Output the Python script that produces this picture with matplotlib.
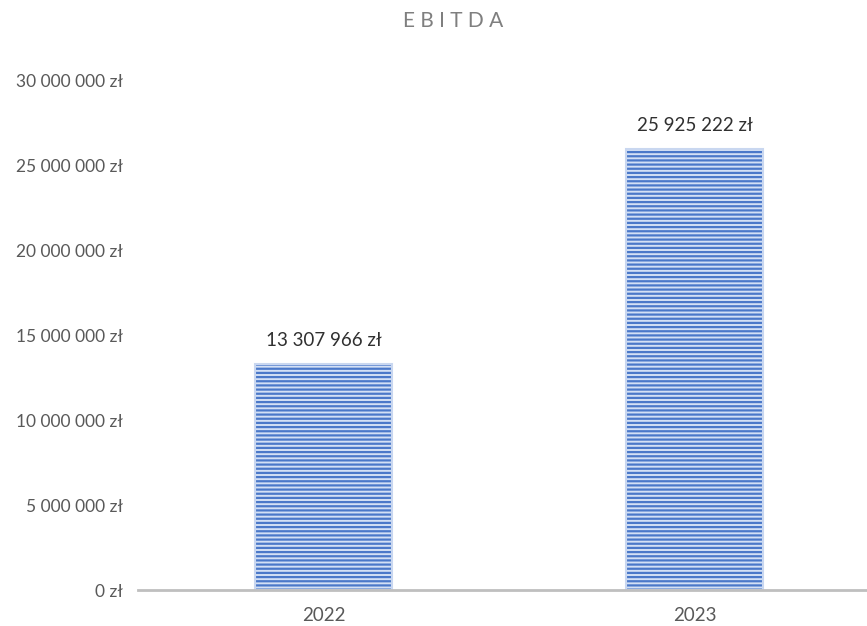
import matplotlib
matplotlib.use('Agg')
import matplotlib.pyplot as plt

years = ['2022', '2023']
ebitda = [13307966, 25925222]

plt.rcParams['font.family'] = ['Lato', 'DejaVu Sans']
plt.rcParams['hatch.linewidth'] = 1.6


def fmt_pln(v):
	#spaces as thousand separators, like in the polish report
	return '{:,.0f} zł'.format(v).replace(',', ' ')


fig = plt.figure(figsize=(8.67, 6.26), dpi=100)
ax = fig.add_axes([0.159, 0.0575, 0.856, 0.8145])

x = range(len(years))
#striped fill first, then a light border on top
ax.bar(x, ebitda, width=0.37, color='#d3e0f5', edgecolor='#4a78c9',
	hatch='----', linewidth=0)
ax.bar(x, ebitda, width=0.37, color='none', edgecolor='#c9d7f0', linewidth=1.5)

for xi, v in zip(x, ebitda):
	ax.annotate(fmt_pln(v), (xi, v), xytext=(0, 11), textcoords='offset points',
		ha='center', va='bottom', fontsize=13.5, color='#303030')

ax.set_xlim(-0.5, 1.5)
ax.set_ylim(0, 30000000)
ax.set_yticks(range(0, 30000001, 5000000))
ax.set_yticklabels([fmt_pln(t) for t in range(0, 30000001, 5000000)])
ax.set_xticks(list(x))
ax.set_xticklabels(years)

for s in ['top', 'right', 'left']:
	ax.spines[s].set_visible(False)
ax.spines['bottom'].set_color('#bfbfbf')
ax.spines['bottom'].set_linewidth(2)
ax.tick_params(axis='both', length=0, colors='#595959')
ax.tick_params(axis='y', pad=11, labelsize=12.5)
ax.tick_params(axis='x', pad=12, labelsize=13.5)

fig.text(0.523, 0.967, 'E B I T D A', ha='center', va='center', fontsize=15, color='#7f7f7f')

fig.savefig('out.png', dpi=100)
